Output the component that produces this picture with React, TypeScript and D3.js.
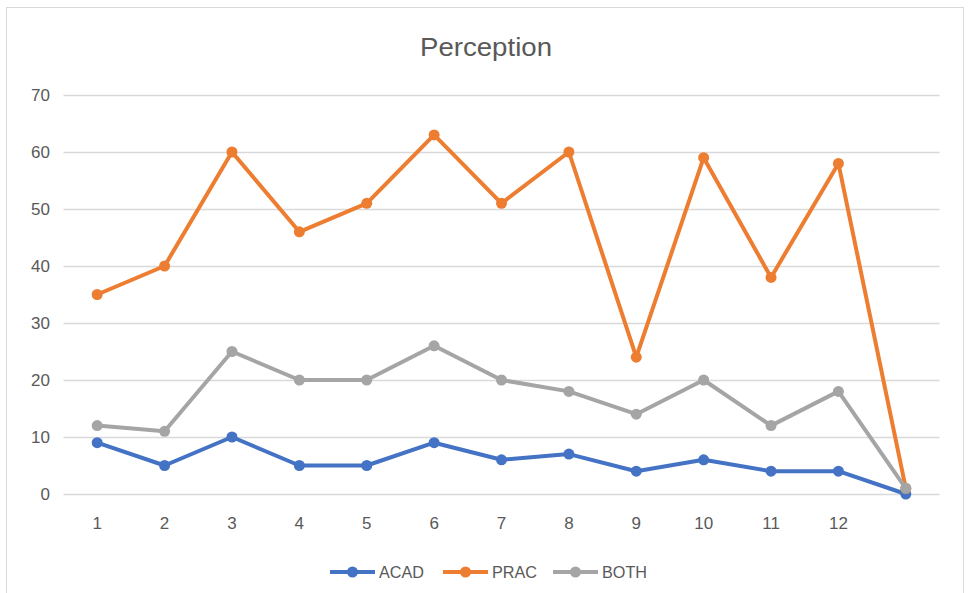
import { useEffect, useRef } from "react";
import * as d3 from "d3";

const categories = ["1", "2", "3", "4", "5", "6", "7", "8", "9", "10", "11", "12", ""];
const acad = [9, 5, 10, 5, 5, 9, 6, 7, 4, 6, 4, 4, 0];
const prac = [35, 40, 60, 46, 51, 63, 51, 60, 24, 59, 38, 58, 1];
const both = [12, 11, 25, 20, 20, 26, 20, 18, 14, 20, 12, 18, 1];
const yTicks = [0, 10, 20, 30, 40, 50, 60, 70];

const SERIES = [
  { name: "ACAD", values: acad, color: "#4472C4" },
  { name: "PRAC", values: prac, color: "#ED7D31" },
  { name: "BOTH", values: both, color: "#A5A5A5" },
];

const W = 972;
const H = 593;
const FONT = "'Liberation Sans', Arial, sans-serif";

export default function App() {
  const svgRef = useRef<SVGSVGElement>(null);

  useEffect(() => {
    if (!svgRef.current) return;
    const svg = d3.select(svgRef.current);
    svg.selectAll("*").remove();

    svg
      .append("rect")
      .attr("x", 6.5)
      .attr("y", 7.5)
      .attr("width", 957)
      .attr("height", 600)
      .attr("fill", "#fff")
      .attr("stroke", "#d9d9d9");

    const x = d3
      .scaleBand<string>()
      .domain(categories.map((_, i) => String(i)))
      .range([63.5, 939.5]);
    const cx = (i: number) => (x(String(i)) ?? 0) + x.bandwidth() / 2;

    const y = d3.scaleLinear().domain([0, 70]).range([494, 95]);

    svg
      .append("text")
      .attr("x", 486)
      .attr("y", 56)
      .attr("text-anchor", "middle")
      .attr("font-family", FONT)
      .attr("font-size", 26)
      .attr("textLength", 132)
      .attr("lengthAdjust", "spacingAndGlyphs")
      .attr("fill", "#595959")
      .text("Perception");

    const grid = svg.append("g");
    grid
      .selectAll("line")
      .data(yTicks)
      .join("line")
      .attr("x1", 63.5)
      .attr("x2", 939.5)
      .attr("y1", (d) => Math.round(y(d)) + 0.5)
      .attr("y2", (d) => Math.round(y(d)) + 0.5)
      .attr("stroke", "#d9d9d9")
      .attr("stroke-width", 1.5);

    grid
      .selectAll("text")
      .data(yTicks)
      .join("text")
      .attr("x", 50)
      .attr("y", (d) => y(d) + 6)
      .attr("text-anchor", "end")
      .attr("font-family", FONT)
      .attr("font-size", 17)
      .attr("fill", "#595959")
      .text((d) => d);

    svg
      .append("g")
      .selectAll("text")
      .data(categories)
      .join("text")
      .attr("x", (_, i) => cx(i))
      .attr("y", 529)
      .attr("text-anchor", "middle")
      .attr("font-family", FONT)
      .attr("font-size", 17)
      .attr("fill", "#595959")
      .text((d) => d);

    const line = d3
      .line<number>()
      .x((_, i) => cx(i))
      .y((d) => y(d));

    SERIES.forEach((s) => {
      const g = svg.append("g");
      g.append("path")
        .attr("d", line(s.values))
        .attr("fill", "none")
        .attr("stroke", s.color)
        .attr("stroke-width", 4)
        .attr("stroke-linejoin", "round");
      g.selectAll("circle")
        .data(s.values)
        .join("circle")
        .attr("cx", (_, i) => cx(i))
        .attr("cy", (d) => y(d))
        .attr("r", 5.5)
        .attr("fill", s.color);
    });

    const legendX = [330, 443, 553];
    const legend = svg.append("g");
    SERIES.forEach((s, i) => {
      const lx = legendX[i];
      legend
        .append("line")
        .attr("x1", lx)
        .attr("x2", lx + 45)
        .attr("y1", 572)
        .attr("y2", 572)
        .attr("stroke", s.color)
        .attr("stroke-width", 4);
      legend
        .append("circle")
        .attr("cx", lx + 22.5)
        .attr("cy", 572)
        .attr("r", 5.5)
        .attr("fill", s.color);
      legend
        .append("text")
        .attr("x", lx + 49)
        .attr("y", 578)
        .attr("font-family", FONT)
        .attr("font-size", 17)
        .attr("textLength", 45)
        .attr("lengthAdjust", "spacingAndGlyphs")
        .attr("fill", "#595959")
        .text(s.name);
    });
  }, []);

  return (
    <div style={{ position: "fixed", left: 0, top: 0 }}>
      <svg ref={svgRef} width={W} height={H} style={{ display: "block" }} />
    </div>
  );
}
